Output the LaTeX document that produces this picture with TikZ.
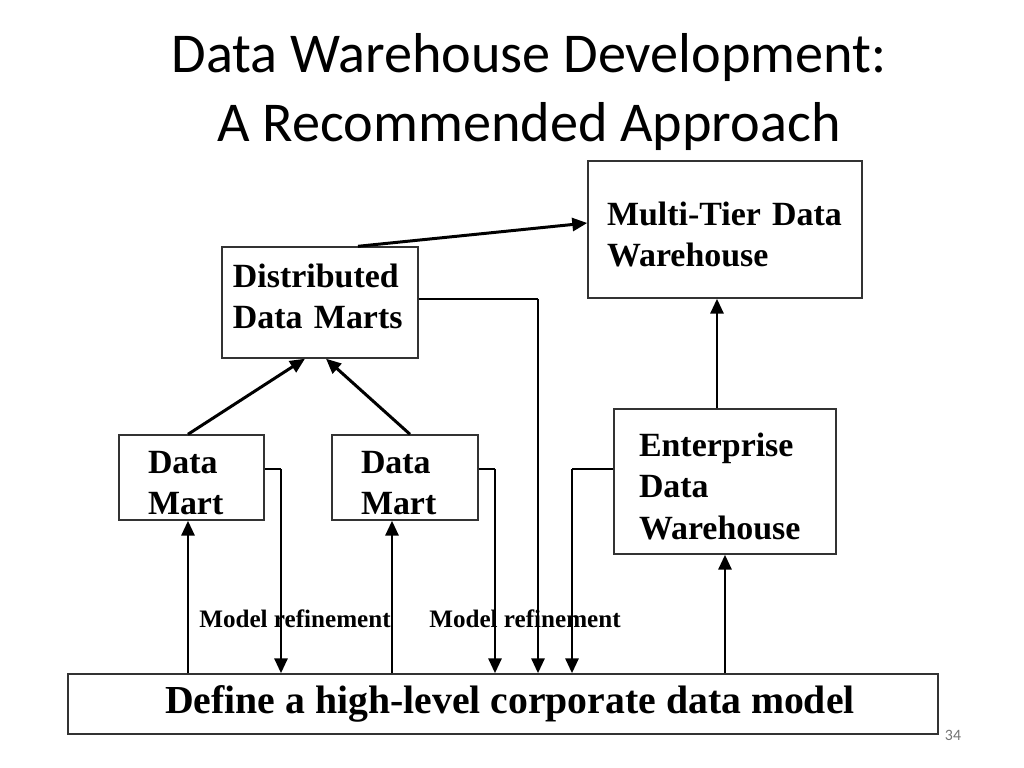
\documentclass[tikz,border=0pt]{standalone}
\usepackage{fontspec}
\setmainfont{Liberation Serif}
\newfontfamily\titlefont{Carlito}
\usetikzlibrary{arrows.meta,positioning,calc}
\tikzset{dw edge/.style={-{Triangle[length=3mm,width=2.6mm]}, line width=1.7pt}}
\tikzset{dw stub/.style={line width=0.8pt}}
\tikzset{dw box/.style={draw=black!80, line width=0.8pt, align=left, inner ysep=0pt, font=\bfseries\fontsize{19.3}{23.5}\selectfont}}
\tikzset{dw label/.style={font=\bfseries\fontsize{14.3}{17}\selectfont}}

\begin{document}
\begin{tikzpicture}[x=0.2mm,y=-0.2mm]
		\useasboundingbox (0,0) rectangle (1024,768);

		\node[font=\titlefont\fontsize{32}{39.8}\selectfont, align=center] (title) at (529,92) {Data Warehouse Development:\\A Recommended Approach};

		\node[dw box, minimum width=54.8mm, minimum height=27.4mm, inner xsep=3.8mm, text width=47.2mm] (tier) at (725,229.5) {\rule{0pt}{6.6mm}Multi-Tier Data\\Warehouse};
		\node[dw box, minimum width=39.2mm, minimum height=22.2mm, inner xsep=2.2mm, text width=34.8mm] (dist) at (320,302.5) {Distributed\\Data Marts\rule[-2.4mm]{0pt}{2.4mm}};
		\node[dw box, minimum width=29mm, minimum height=17mm, inner xsep=5.8mm, text width=17.4mm] (dmA) at (191.5,477.5) {\rule{0pt}{6.6mm}Data\\Mart};
		\node[dw box, minimum width=29.2mm, minimum height=17mm, inner xsep=5.8mm, text width=17.6mm] (dmB) at (405,477.5) {\rule{0pt}{6.6mm}Data\\Mart};
		\node[dw box, minimum width=44.4mm, minimum height=29mm, inner xsep=5mm, text width=34.4mm] (ent) at (725,481.5) {\rule{0pt}{6.6mm}Enterprise\\Data\\Warehouse};
		\node[dw box, align=center, minimum width=174mm, minimum height=12mm, font=\bfseries\fontsize{22.6}{26}\selectfont] (model) at (503,704) {\hspace*{2.8mm}Define a high-level corporate data model};

		\node[dw label] (refA) at (295,619) {Model refinement};
		\node[dw label] (refB) at (525,619) {Model refinement};
		\node[font=\titlefont\fontsize{9}{10}\selectfont, text=black!55] (pnum) at (953,735) {34};

		% arrow columns
		\coordinate (colA) at (188,0);
		\coordinate (colB) at (392,0);
		\coordinate (colE) at (725,0);
		\coordinate (colT) at (717,0);
		\coordinate (dmA bend) at (281,469);
		\coordinate (dmB bend) at (495,469);
		\coordinate (dist bend) at (538,299);
		\coordinate (ent bend) at (572,469);

		\draw[dw edge] ([xshift=7.6mm]dist.north) -- ([yshift=1.3mm]tier.west);
		\draw[dw edge] (dmA.north -| colA) -- ([xshift=-3mm]dist.south);
		\draw[dw edge] ([xshift=1mm]dmB.north) -- ([xshift=1.2mm]dist.south);
		\draw[dw edge] (ent.north -| colT) -- (tier.south -| colT);

		\draw[dw edge] (model.north -| colA) -- (dmA.south -| colA);
		\draw[dw edge] (model.north -| colB) -- (dmB.south -| colB);
		\draw[dw edge] (model.north -| colE) -- (ent.south -| colE);

		\draw[dw stub] (dmA.east |- dmA bend) -- (dmA bend);
		\draw[dw edge] (dmA bend) -- (model.north -| dmA bend);
		\draw[dw stub] (dmB.east |- dmB bend) -- (dmB bend);
		\draw[dw edge] (dmB bend) -- (model.north -| dmB bend);
		\draw[dw stub] (dist.east |- dist bend) -- (dist bend);
		\draw[dw edge] (dist bend) -- (model.north -| dist bend);
		\draw[dw stub] (ent.west |- ent bend) -- (ent bend);
		\draw[dw edge] (ent bend) -- (model.north -| ent bend);
	\end{tikzpicture}
\end{document}
